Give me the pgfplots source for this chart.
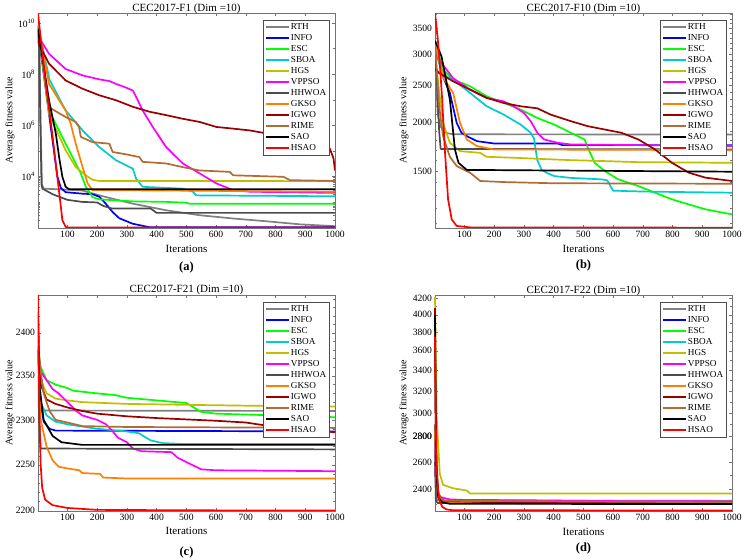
\documentclass[border=0pt]{standalone}
\usepackage{fontspec}
\setmainfont{Liberation Serif}
\usepackage{pgfplots}
\pgfplotsset{compat=1.18}

\definecolor{cRTH}{rgb}{0.50,0.50,0.50}
\definecolor{cINFO}{rgb}{0,0,1}
\definecolor{cESC}{rgb}{0,1,0}
\definecolor{cSBOA}{rgb}{0,0.8,0.8}
\definecolor{cHGS}{rgb}{0.75,0.75,0}
\definecolor{cVPPSO}{rgb}{1,0,1}
\definecolor{cHHWOA}{rgb}{0.30,0.30,0.30}
\definecolor{cGKSO}{rgb}{1,0.5,0}
\definecolor{cIGWO}{rgb}{0.6,0,0}
\definecolor{cRIME}{rgb}{0.7,0.42,0.2}
\definecolor{cSAO}{rgb}{0,0,0}
\definecolor{cHSAO}{rgb}{1,0,0}

\pgfplotsset{
  conv/.style={
    scale only axis, width=297pt, height=215pt,
    anchor=south west,
    xmin=1, xmax=1000, xtick={100,200,...,1000},
    axis line style={black!55},
    major tick length=3pt, minor tick length=1.8pt,
    tick style={black!55, line width=0.4pt},
    tick label style={font=\fontsize{9.6}{11}\selectfont},
    yticklabel style={xshift=0.5pt},
    /pgf/number format/assume math mode=true,
    /pgf/number format/1000 sep={},
    xlabel={Iterations}, ylabel={Average fitness value},
    label style={font=\fontsize{11}{13}\selectfont},
    every axis title/.style={at={(0.5,1)}, anchor=base, yshift=1.8pt,
       font=\fontsize{11}{13}\selectfont},
    legend entries={RTH,INFO,ESC,SBOA,HGS,VPPSO,HHWOA,GKSO,IGWO,RIME,SAO,HSAO},
    legend style={at={(0.98,0.967)}, anchor=north east, draw=black!70, fill=white,
       font=\fontsize{9.2}{10}\selectfont, inner sep=1.5pt, row sep=0pt,
       nodes={inner ysep=1pt, inner xsep=1.2pt, text height=7pt, text depth=2pt}},
    legend cell align=left,
    legend image code/.code={\draw[#1] (0pt,0pt) -- (23pt,0pt);},
    every axis plot/.append style={line width=1.7pt, line join=round},
  },
  % plain integer labels on a log axis
  fixedlog/.style={yticklabel={\pgfmathparse{exp(\tick)}\pgfmathprintnumber[fixed,precision=0]{\pgfmathresult}}},
  leftcol/.style={every axis y label/.style={at={(axis description cs:0,0.5)},
     anchor=center, xshift=-28pt, rotate=90}},
  rightcol/.style={every axis y label/.style={at={(axis description cs:0,0.5)},
     anchor=center, xshift=-31pt, rotate=90}},
}

\begin{document}
\begin{tikzpicture}[x=1pt,y=1pt]
\useasboundingbox (0,0) rectangle (745,560);

% ---------------- F1 ----------------
\begin{axis}[ymode=log, conv, leftcol, at={(38pt,332pt)}, title={CEC2017-F1 (Dim =10)},
  ymin=95, ymax=2.5e10,
  ytick={1e4,1e6,1e8,1e10},
  yticklabels={10\textsuperscript{4},10\textsuperscript{6},10\textsuperscript{8},10\textsuperscript{10}},
  minor ytick={2e2,3e2,4e2,5e2,6e2,7e2,8e2,9e2,1e3,2e3,3e3,4e3,5e3,6e3,7e3,8e3,9e3,1e5,1e7,1e9}]
\addplot[cRTH] coordinates {(1,9e9) (6,5e8) (10,1e6) (14,5e3) (20,3300) (100,3000) (150,2800) (207,1800) (320,850) (432,470) (545,300) (657,224) (770,174) (882,132) (1000,112)};
\addplot[cINFO] coordinates {(1,5e9) (30,1.4e7) (66,1e4) (78,3500) (94,2400) (150,2100) (184,2000) (207,1600) (229,850) (252,400) (274,230) (319,140) (376,102) (1000,101)};
\addplot[cESC] coordinates {(1,8e9) (38,3.8e6) (94,1.9e5) (128,3.2e4) (145,1.3e4) (162,3900) (184,1550) (207,1260) (263,1150) (320,1050) (432,1000) (500,930) (511,850) (1000,850)};
\addplot[cSBOA] coordinates {(1,8e9) (40,6e7) (94,3.8e6) (151,6.3e5) (207,1.4e5) (263,4.3e4) (320,2e4) (331,8100) (353,3900) (488,3300) (522,2500) (533,1800) (1000,1660)};
\addplot[cHGS] coordinates {(1,8e9) (38,2.8e6) (94,1.05e5) (128,2.3e4) (162,1.1e4) (184,7400) (207,6600) (1000,6500)};
\addplot[cVPPSO] coordinates {(1,6e9) (4,2.8e9) (38,6.3e8) (94,1.6e8) (151,9e7) (207,6.3e7) (241,5.4e7) (263,4.2e7) (297,3e7) (320,2.3e7) (331,1.3e7) (353,3.8e6) (387,8.6e5) (432,1.4e5) (488,3.2e4) (545,1.3e4) (601,5300) (657,2900) (713,2500) (1000,2250)};
\addplot[cHHWOA] coordinates {(1,5e9) (5,1e9) (9,1e6) (13,4500) (16,3300) (50,2000) (100,1200) (150,1000) (200,950) (220,700) (250,550) (380,550) (400,372) (1000,372)};
\addplot[cGKSO] coordinates {(1,8e9) (38,4.2e7) (72,9.6e6) (94,3.8e6) (111,1.15e6) (128,1.9e5) (151,2.3e4) (168,5300) (184,2900) (600,2700) (1000,2500)};
\addplot[cIGWO] coordinates {(1,3e9) (4,1.5e9) (38,2.6e8) (94,5.7e7) (151,2.7e7) (207,1.5e7) (263,9.6e6) (320,5.3e6) (376,3.4e6) (432,2.5e6) (488,1.8e6) (545,1.35e6) (601,8.6e5) (657,7.4e5) (713,6.3e5) (770,4.8e5) (826,3.5e5) (882,2.6e5) (938,1.9e5) (983,1.2e5) (995,5e4) (1000,1.7e4)};
\addplot[cRIME] coordinates {(1,8e9) (20,2e8) (38,5.1e6) (94,2.1e6) (128,1.35e6) (139,8.6e5) (145,3.5e5) (184,2.2e5) (241,1.9e5) (252,9e4) (297,7.3e4) (342,5.7e4) (353,3.7e4) (432,3.2e4) (488,2.3e4) (545,1.7e4) (646,1.5e4) (657,1.1e4) (826,9600) (849,7100) (1000,6600)};
\addplot[cSAO] coordinates {(1,6e9) (38,9.6e6) (61,4.7e5) (72,5.7e4) (83,9600) (94,3900) (106,3100) (1000,3100)};
\addplot[cHSAO] coordinates {(1,2.4e10) (27,4.3e7) (49,4.7e5) (66,9600) (78,630) (83,190) (94,105) (100,100) (1000,100)};
\end{axis}
\node[font=\bfseries\fontsize{12.5}{14}\selectfont] at (186.5,293) {(a)};

% ---------------- F10 ----------------
\begin{axis}[ymode=log, conv, rightcol, fixedlog, at={(435pt,332pt)}, title={CEC2017-F10 (Dim =10)},
  ymin=1070, ymax=3830,
  ytick={1500,2000,2500,3000,3500},
  minor ytick={1100,1200,1300,1400,1600,1700,1800,1900,2100,2200,2300,2400,2600,2700,2800,2900,3100,3200,3300,3400,3600,3700,3800}]
\addplot[cRTH] coordinates {(1,3200) (5,2600) (10,2100) (20,1950) (40,1880) (60,1865) (1000,1863)};
\addplot[cINFO] coordinates {(1,3150) (30,2600) (51,2384) (74,1996) (90,1882) (108,1845) (142,1791) (200,1766) (413,1766) (430,1749) (1000,1749)};
\addplot[cESC] coordinates {(1,3250) (28,2736) (62,2580) (119,2479) (175,2337) (232,2246) (289,2159) (345,2055) (402,1976) (458,1882) (504,1809) (515,1722) (538,1575) (572,1500) (617,1428) (685,1372) (741,1319) (798,1268) (855,1230) (911,1195) (1000,1160)};
\addplot[cSBOA] coordinates {(1,3100) (20,2750) (40,2630) (62,2580) (119,2384) (175,2202) (232,2096) (289,1976) (323,1882) (334,1820) (345,1600) (360,1510) (380,1480) (402,1456) (458,1440) (560,1428) (580,1420) (600,1335) (700,1328) (1000,1319)};
\addplot[cHGS] coordinates {(1,3000) (15,2400) (28,1996) (51,1774) (85,1688) (153,1671) (175,1632) (266,1623) (345,1613) (458,1600) (572,1591) (685,1581) (1000,1575)};
\addplot[cVPPSO] coordinates {(1,3000) (23,2846) (62,2600) (119,2431) (175,2314) (232,2268) (266,2202) (300,2117) (323,2016) (345,1882) (368,1809) (413,1774) (458,1756) (1000,1739)};
\addplot[cHHWOA] coordinates {(1,3100) (8,2500) (15,1900) (20,1710) (1000,1705)};
\addplot[cGKSO] coordinates {(1,3200) (30,2600) (62,2384) (85,1996) (108,1809) (142,1739) (198,1705) (1000,1698)};
\addplot[cIGWO] coordinates {(1,2750) (15,2680) (62,2553) (119,2431) (175,2314) (232,2246) (289,2202) (345,2176) (390,2096) (458,2016) (515,1957) (572,1919) (628,1882) (685,1809) (741,1705) (798,1575) (855,1485) (911,1442) (1000,1414)};
\addplot[cRIME] coordinates {(1,3200) (15,2200) (28,1845) (51,1632) (74,1545) (119,1485) (153,1414) (232,1405) (400,1395) (1000,1391)};
\addplot[cSAO] coordinates {(1,3250) (23,2960) (51,2291) (68,1705) (80,1575) (108,1510) (1000,1494)};
\addplot[cHSAO] coordinates {(1,3825) (10,3300) (17,2846) (25,2300) (34,1705) (45,1268) (57,1127) (74,1083) (119,1074) (1000,1072)};
\end{axis}
\node[font=\bfseries\fontsize{12.5}{14}\selectfont] at (583.5,295) {(b)};

% ---------------- F21 ----------------
\begin{axis}[ymode=log, conv, leftcol, fixedlog, at={(38pt,49pt)}, height=216pt, title={CEC2017-F21 (Dim =10)},
  ymin=2200, ymax=2445,
  ytick={2200,2250,2300,2350,2400},
  minor ytick={2210,2220,2230,2240,2260,2270,2280,2290,2310,2320,2330,2340,2360,2370,2380,2390,2410,2420,2430,2440}]
\addplot[cRTH] coordinates {(1,2385) (5,2330) (10,2312) (20,2310.5) (1000,2310)};
\addplot[cINFO] coordinates {(1,2380) (10,2320) (20,2298) (40,2290) (60,2288) (1000,2287)};
\addplot[cESC] coordinates {(1,2385) (10,2360) (30,2345) (60,2340) (100,2336) (120,2333) (200,2330) (260,2328) (300,2325) (400,2322) (500,2319) (520,2315) (550,2309) (600,2307) (800,2305) (1000,2303)};
\addplot[cSBOA] coordinates {(1,2380) (10,2320) (30,2305) (60,2298) (100,2295) (200,2290) (300,2287) (340,2285) (380,2277) (420,2274) (500,2273) (1000,2273)};
\addplot[cHGS] coordinates {(1,2385) (10,2345) (30,2330) (60,2324) (100,2322) (150,2320) (300,2318) (500,2317) (700,2316) (1000,2315)};
\addplot[cVPPSO] coordinates {(1,2380) (10,2355) (30,2345) (50,2335) (70,2330) (100,2320) (130,2310) (150,2305) (200,2300) (230,2295) (250,2288) (270,2280) (300,2275) (320,2268) (350,2265) (450,2264) (470,2258) (500,2253) (550,2245) (600,2244) (1000,2243)};
\addplot[cHHWOA] coordinates {(1,2350) (5,2300) (10,2268) (1000,2267)};
\addplot[cGKSO] coordinates {(1,2380) (10,2300) (30,2270) (50,2255) (70,2248) (100,2246) (140,2244) (150,2241) (210,2240) (220,2236) (300,2235) (1000,2235)};
\addplot[cIGWO] coordinates {(1,2380) (10,2340) (30,2323) (60,2318) (100,2314) (150,2310) (200,2307) (300,2304) (400,2302) (600,2299) (700,2297) (800,2292) (900,2290) (1000,2286)};
\addplot[cRIME] coordinates {(1,2430) (5,2370) (20,2330) (40,2310) (60,2300) (100,2297) (150,2293) (300,2292) (1000,2291)};
\addplot[cSAO] coordinates {(1,2425) (5,2340) (20,2300) (50,2282) (80,2275) (150,2272) (1000,2272)};
\addplot[cHSAO] coordinates {(1,2445) (3,2380) (6,2300) (10,2250) (15,2225) (25,2212) (50,2206) (100,2203) (200,2201) (500,2200.5) (1000,2200.2)};
\end{axis}
\node[font=\bfseries\fontsize{12.5}{14}\selectfont] at (186.5,8) {(c)};

% ---------------- F22 ----------------
\begin{axis}[ymode=log, conv, rightcol, fixedlog, clip=false, at={(435pt,49pt)}, height=216pt, title={CEC2017-F22 (Dim =10)},
  ymin=2252, ymax=4240,
  ytick={2400,2600,2800,3000,3200,3400,3600,3800,4000,4200},
  minor ytick={2300,2500,2700,2900,3100,3300,3500,3700,3900,4100}]
\addplot[cRTH] coordinates {(1,2850) (3,2500) (6,2330) (10,2322) (1000,2320)};
\addplot[cINFO] coordinates {(1,2700) (5,2450) (15,2330) (30,2310) (1000,2303)};
\addplot[cESC] coordinates {(1,2800) (5,2500) (15,2340) (40,2310) (1000,2305)};
\addplot[cSBOA] coordinates {(1,2750) (5,2450) (15,2330) (40,2308) (1000,2304)};
\addplot[cHGS] coordinates {(1,4220) (6,2995) (17,2514) (28,2431) (62,2407) (96,2395) (108,2391) (119,2370) (1000,2370)};
\addplot[cVPPSO] coordinates {(1,2900) (3,2500) (10,2380) (20,2345) (50,2330) (100,2326) (300,2324) (600,2318) (1000,2316)};
\addplot[cHHWOA] coordinates {(1,2600) (4,2320) (10,2305) (1000,2302)};
\addplot[cGKSO] coordinates {(1,2900) (5,2500) (15,2340) (40,2310) (1000,2306)};
\addplot[cIGWO] coordinates {(1,4080) (3,3200) (6,2600) (12,2360) (30,2320) (200,2310) (1000,2308)};
\addplot[cRIME] coordinates {(1,2900) (4,2500) (10,2360) (30,2320) (1000,2310)};
\addplot[cSAO] coordinates {(1,4000) (3,3000) (6,2500) (12,2340) (25,2310) (50,2300) (1000,2298)};
\addplot[cHSAO] coordinates {(1,3750) (3,3000) (6,2600) (10,2420) (15,2330) (25,2280) (40,2262) (60,2257) (1000,2255)};
% tick label for 2800, set like the others
\node[anchor=east, xshift=0.5pt, font=\fontsize{9.6}{11}\selectfont] at (axis cs:1,2800) {2800};
\end{axis}
\node[font=\bfseries\fontsize{12.5}{14}\selectfont] at (583.5,12) {(d)};
\end{tikzpicture}
\end{document}
